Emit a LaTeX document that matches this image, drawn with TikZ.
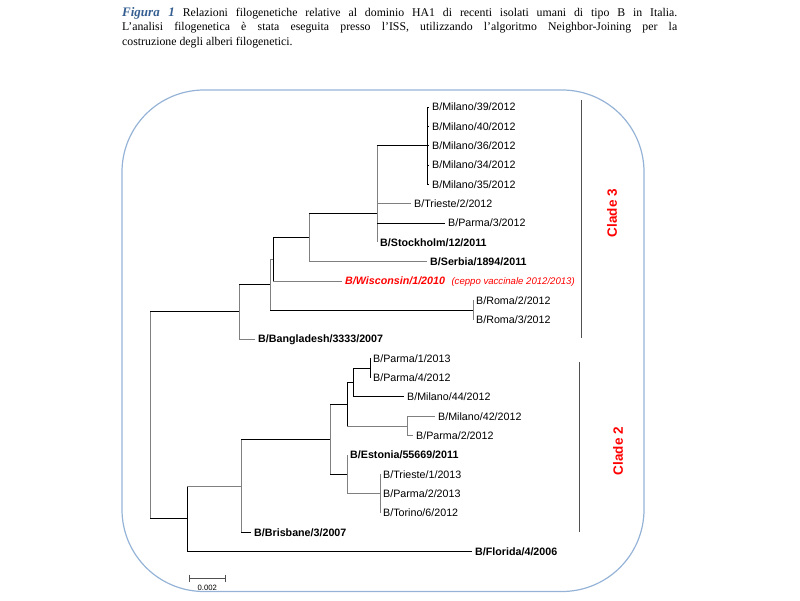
\documentclass[tikz,border=0pt]{standalone}
\usepackage{fontspec}
\setmainfont{Liberation Serif}
\setsansfont{Liberation Sans}
\usepackage{tikz}
\usetikzlibrary{calc}
\definecolor{figblue}{RGB}{54,95,145}
\definecolor{boxblue}{RGB}{149,179,215}
\definecolor{treegray}{RGB}{128,128,128}
\definecolor{cladered}{RGB}{255,0,0}
\definecolor{bargray}{RGB}{80,80,80}

\begin{document}
\begin{tikzpicture}[x=1pt,y=1pt,
    leaf/.style={anchor=west,inner xsep=3pt,inner ysep=0pt,text height=7.7pt,text depth=0pt,
                 font=\sffamily\fontsize{10.7}{12}\selectfont},
    bleaf/.style={leaf,font=\sffamily\bfseries\fontsize{10.7}{12}\selectfont},
    blk/.style={black,line width=1pt},
    gry/.style={treegray,line width=1pt},
    cladebar/.style={bargray,line width=1pt},
    clade/.style={rotate=90,text=cladered,inner sep=0pt,font=\sffamily\bfseries\fontsize{13.5}{15}\selectfont},
    scalebar/.style={bargray,line width=1pt}]
                \useasboundingbox (0,0) rectangle (800,-600);
                \node [anchor=north west,inner sep=0pt,text width=555pt,align=justify,
                       font=\fontsize{11.8}{14.7}\selectfont] (caption) at (122,-7)
                  {{\color{figblue}\bfseries\itshape\fontsize{13}{14.7}\selectfont Figura 1} Relazioni filogenetiche relative al dominio HA1 di recenti isolati umani di tipo B in Italia.\linebreak
                   L’analisi filogenetica è stata eseguita presso l’ISS, utilizzando l’algoritmo Neighbor-Joining per la\linebreak
                   costruzione degli alberi filogenetici.};
                \draw [boxblue,line width=1.2pt,rounded corners=82pt] (122,-90) rectangle (644,-591.5);
                \node [leaf] (m39) at (429,-107.0) {B/Milano/39/2012};
                \node [leaf] (m40) at (429,-126.3) {B/Milano/40/2012};
                \node [leaf] (m36) at (429,-145.7) {B/Milano/36/2012};
                \node [leaf] (m34) at (429,-165.0) {B/Milano/34/2012};
                \node [leaf] (m35) at (429,-184.3) {B/Milano/35/2012};
                \node [leaf] (tri2) at (411,-203.7) {B/Trieste/2/2012};
                \node [leaf] (par3) at (445,-223.0) {B/Parma/3/2012};
                \node [bleaf] (stock) at (377,-242.3) {B/Stockholm/12/2011};
                \node [bleaf] (serb) at (427,-261.6) {B/Serbia/1894/2011};
                \node [leaf,text=cladered] (wisc) at (342,-281.0) {\bfseries\itshape B/Wisconsin/1/2010\hspace{6.5pt}{\mdseries\fontsize{9.6}{11}\selectfont(ceppo vaccinale 2012/2013)}};
                \node [leaf] (roma2) at (473,-300.3) {B/Roma/2/2012};
                \node [leaf] (roma3) at (473,-319.6) {B/Roma/3/2012};
                \node [bleaf] (bangl) at (255,-339.0) {B/Bangladesh/3333/2007};
                \node [leaf] (par1) at (370,-358.3) {B/Parma/1/2013};
                \node [leaf] (par4) at (370,-377.6) {B/Parma/4/2012};
                \node [leaf] (mil44) at (404,-396.9) {B/Milano/44/2012};
                \node [leaf] (mil42) at (435,-416.3) {B/Milano/42/2012};
                \node [leaf] (par2b) at (413,-435.6) {B/Parma/2/2012};
                \node [bleaf] (eston) at (347,-454.9) {B/Estonia/55669/2011};
                \node [leaf] (tri1) at (380,-474.3) {B/Trieste/1/2013};
                \node [leaf] (par2c) at (380,-493.6) {B/Parma/2/2013};
                \node [leaf] (tor6) at (380,-512.9) {B/Torino/6/2012};
                \node [bleaf] (brisb) at (251,-532.3) {B/Brisbane/3/2007};
                \node [bleaf] (flor) at (472,-551.6) {B/Florida/4/2006};
                \coordinate (root) at (150,-415);
                \coordinate (nA) at (239,-311.5);
                \coordinate (nB) at (270,-284);
                \coordinate (nC) at (273,-259);
                \coordinate (nD) at (309,-237.3);
                \coordinate (nE) at (377,-213);
                \coordinate (nMil) at (427,-145.7);
                \coordinate (nRoma) at (473,-310);
                \coordinate (nF) at (187,-518.8);
                \coordinate (nG) at (241,-486);
                \coordinate (nH) at (330,-439.4);
                \coordinate (nK) at (347,-404.5);
                \coordinate (nM) at (353,-382.4);
                \coordinate (nN) at (370,-368);
                \coordinate (nL) at (407,-426);
                \coordinate (nI) at (347,-474.3);
                \coordinate (nJ) at (380,-493.6);
                \draw [gry] (root |- nA) -- (root |- nF);
                \draw [gry] (nA |- nB) -- (nA |- bangl.west);
                \draw [gry] (nB |- nC) -- (nB |- nRoma);
                \draw [blk] (nC |- nD) -- (nC |- wisc.west);
                \draw [gry] (nD |- nE) -- (nD |- serb.west);
                \draw [gry] (nE |- nMil) -- (nE |- stock.west);
                \draw [blk] (nMil |- m39.west) -- (nMil |- m35.west);
                \draw [gry] (nRoma |- roma2.west) -- (nRoma |- roma3.west);
                \draw [blk] (nF |- nG) -- (nF |- flor.west);
                \draw [gry] (nG |- nH) -- (nG |- brisb.west);
                \draw [gry] (nH |- nK) -- (nH |- nI);
                \draw [blk] (nK |- nM) -- (nK |- nL);
                \draw [blk] (nM |- nN) -- (nM |- mil44.west);
                \draw [blk] (nN |- par1.west) -- (nN |- par4.west);
                \draw [gry] (nL |- mil42.west) -- (nL |- par2b.west);
                \draw [gry] (nI |- eston.west) -- (nI |- nJ);
                \draw [gry] (nJ |- tri1.west) -- (nJ |- tor6.west);
                \draw [blk] (root |- nA) -- (nA);
                \draw [blk] (root |- nF) -- (nF);
                \draw [blk] (nA |- nB) -- (nB);
                \draw [gry] (nA |- bangl.west) -- (bangl.west);
                \draw [gry] (nB |- nC) -- (nC);
                \draw [blk] (nB |- nRoma) -- (nRoma);
                \draw [blk] (nC |- nD) -- (nD);
                \draw [gry] (nC |- wisc.west) -- (wisc.west);
                \draw [blk] (nD |- nE) -- (nE);
                \draw [gry] (nD |- serb.west) -- (serb.west);
                \draw [blk] (nE |- nMil) -- (nMil);
                \draw [gry] (nE |- tri2.west) -- (tri2.west);
                \draw [blk] (nE |- par3.west) -- (par3.west);
                \foreach \l in {m39,m40,m36,m34,m35}
                  \draw [blk] (nMil |- \l.west) -- (\l.west);
                \draw [gry] (nF |- nG) -- (nG);
                \draw [blk] (nF |- flor.west) -- (flor.west);
                \draw [blk] (nG |- nH) -- (nH);
                \draw [blk] (nG |- brisb.west) -- (brisb.west);
                \draw [blk] (nH |- nK) -- (nK);
                \draw [blk] (nH |- nI) -- (nI);
                \draw [blk] (nK |- nM) -- (nM);
                \draw [gry] (nK |- nL) -- (nL);
                \draw [blk] (nM |- nN) -- (nN);
                \draw [blk] (nM |- mil44.west) -- (mil44.west);
                \draw [gry] (nL |- mil42.west) -- (mil42.west);
                \draw [gry] (nL |- par2b.west) -- (par2b.west);
                \draw [gry] (nI |- nJ) -- (nJ);
                \coordinate (c3top) at (581,-100);
                \coordinate (c3bot) at (581,-338);
                \draw [cladebar] (c3top) -- (c3bot);
                \node [clade] (clade3) at (612,-213) {Clade 3};
                \coordinate (c2top) at (579.5,-362);
                \coordinate (c2bot) at (579.5,-532);
                \draw [cladebar] (c2top) -- (c2bot);
                \node [clade] (clade2) at (618,-451) {Clade 2};
                \coordinate (sbl) at (189,-578);
                \coordinate (sbr) at (225.7,-578);
                \draw [scalebar] (sbl) -- (sbr);
                \draw [scalebar] ([yshift=3.5pt]sbl) -- ([yshift=-3.5pt]sbl);
                \draw [scalebar] ([yshift=3.5pt]sbr) -- ([yshift=-3.5pt]sbr);
                \node [font=\sffamily\fontsize{7.7}{9}\selectfont,inner sep=0pt] (sblab) at (207.3,-588.3) {0.002};
            \end{tikzpicture}
\end{document}
